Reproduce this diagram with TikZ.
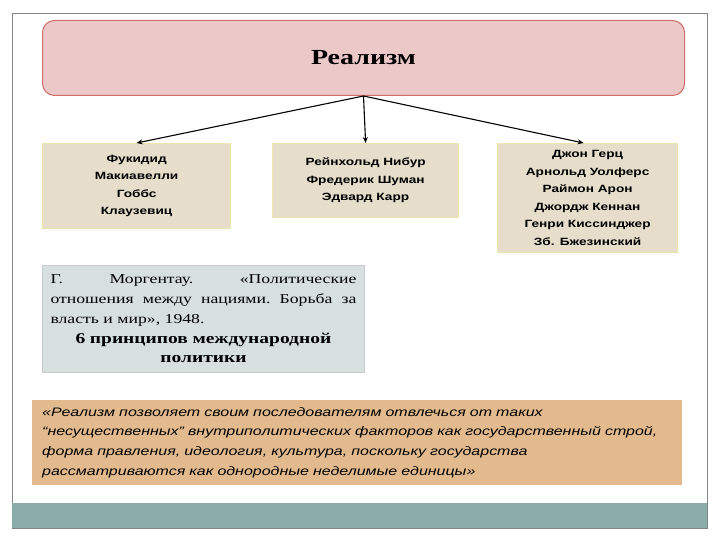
\documentclass[tikz,border=0pt]{standalone}
\usepackage{fontspec}
\setmainfont[FakeStretch=1.3]{Liberation Serif}
\setsansfont[FakeStretch=1.3]{Liberation Sans}
\usepackage{xcolor}
\usetikzlibrary{positioning,arrows.meta}
\definecolor{rlpink}{HTML}{ECC9C8}
\definecolor{rlred}{HTML}{CF6E6B}
\definecolor{rltan}{HTML}{E6DECB}
\definecolor{rlyellow}{HTML}{EFE4AE}
\definecolor{rlgray}{HTML}{D7DFDF}
\definecolor{rlline}{HTML}{C6CACA}
\definecolor{rlorange}{HTML}{E3BA8D}
\definecolor{rlteal}{HTML}{8AACAA}
\definecolor{rlframe}{HTML}{858585}

\begin{document}
\begin{tikzpicture}[x=1pt,y=-1pt,
  realbox/.style={draw=rlred,line width=1pt,rounded corners=12pt,fill=rlpink,anchor=north west,
  minimum width=642pt,minimum height=75pt,font=\bfseries\fontsize{21.5}{24}\selectfont},
  namebox/.style={draw=rlyellow,line width=1.2pt,fill=rltan,anchor=north west,inner sep=0pt,
  align=center,font=\sffamily\bfseries\fontsize{10.5}{17.5}\selectfont},
  bookbox/.style={draw=rlline,line width=1pt,fill=rlgray,anchor=north west,inner xsep=8pt,
  text width=306pt,align=left,minimum height=107pt,font=\fontsize{13.6}{19.7}\selectfont},
  quotebox/.style={fill=rlorange,anchor=north west,inner xsep=10pt,text width=630pt,align=left,
  minimum height=85pt,font=\sffamily\itshape\fontsize{12.3}{19.8}\selectfont},
  arr/.style={-{Stealth[length=6pt,width=5pt]},line width=1.1pt}]
\useasboundingbox (0,0) rectangle (720,540);
% slide frame
\fill[white] (0,0) rectangle (720,540);
\draw[rlframe,line width=0.8pt] (12,13) rectangle (707,528);
\fill[rlteal] (12,503) rectangle (707,528);
\draw[rlframe,line width=0.8pt] (12,528) -- (707,528);
% boxes
\node[realbox] (real) at (42,20) {Реализм};
\node[namebox,minimum width=188pt,minimum height=85pt] (old) at (42,143) {Фукидид\\ Макиавелли\\ Гоббс\\ Клаузевиц};
\node[namebox,minimum width=186pt,minimum height=74pt] (mid) at (272,143) {Рейнхольд Нибур\\ Фредерик Шуман\\ Эдвард Карр};
\node[namebox,minimum width=180pt,minimum height=109pt] (new) at (497,143) {Джон Герц\\ Арнольд Уолферс\\ Раймон Арон\\ Джордж Кеннан\\ Генри Киссинджер\\ Зб. Бжезинский};
\node[bookbox] (book) at (42,265) {Г.\hfill Моргентау.\hfill «Политические\\ отношения\hfill между\hfill нациями.\hfill Борьба\hfill за\\ власть и мир», 1948.\\ \hfill{\bfseries\fontsize{15}{19.7}\selectfont 6 принципов международной}\hfill\null\\ \hfill{\bfseries\fontsize{15}{19.7}\selectfont политики}\hfill\null};
\node[quotebox] (quote) at (32,400) {«Реализм позволяет своим последователям отвлечься от таких\\ “несущественных” внутриполитических факторов как государственный строй,\\ форма правления, идеология, культура, поскольку государства\\ рассматриваются как однородные неделимые единицы»};
% connectors
\draw[arr] (real.south) -- (old.north);\draw[arr] (real.south) -- (mid.north);\draw[arr] (real.south) -- ([xshift=-4pt]new.north);
\end{tikzpicture}
\end{document}
